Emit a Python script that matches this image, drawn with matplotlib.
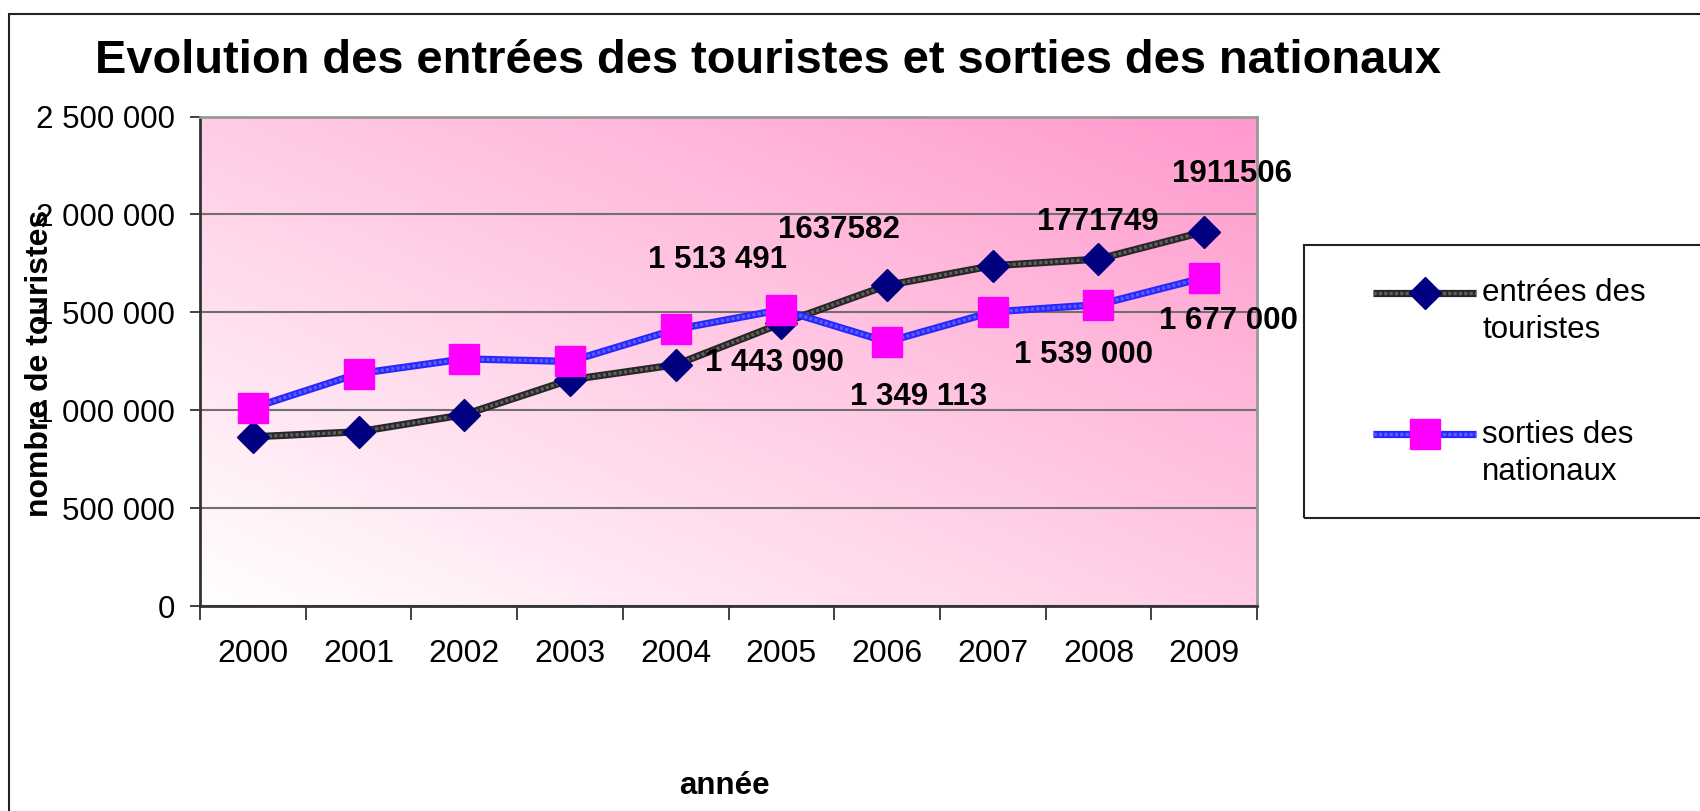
import matplotlib
matplotlib.use('Agg')
import matplotlib.pyplot as plt
from matplotlib.patches import Rectangle
from matplotlib.legend_handler import HandlerTuple
from matplotlib.ticker import FixedLocator, FuncFormatter
import numpy as np

plt.rcParams['font.family'] = ['Liberation Sans', 'DejaVu Sans']

years = ['2000', '2001', '2002', '2003', '2004', '2005', '2006', '2007', '2008', '2009']
entrees = [864000, 890000, 977000, 1155000, 1232000, 1443090, 1637582, 1738000, 1771749, 1911506]
sorties = [1012000, 1187000, 1262000, 1249000, 1413000, 1513491, 1349113, 1502000, 1539000, 1677000]

# data labels shown on the chart (index, text)
entrees_labels = [(5, '1 443 090'), (6, '1637582'), (8, '1771749'), (9, '1911506')]
sorties_labels = [(5, '1 513 491'), (6, '1 349 113'), (8, '1 539 000'), (9, '1 677 000')]

# label offsets in pixels, same order as above
entrees_offsets = [(-7, -40), (-48, 55), (-1, 37), (28, 58)]
sorties_offsets = [(-64, 50), (32, -55), (-15, -50), (24, -43)]


class TopTupleHandler(HandlerTuple):
    # put the legend sample next to the first line of a two-line label
    def __init__(self, shift, **kw):
        super().__init__(**kw)
        self.shift = shift

    def create_artists(self, *args, **kwargs):
        arts = super().create_artists(*args, **kwargs)
        for a in arts:
            a.set_ydata(np.asarray(a.get_ydata()) + self.shift)
        return arts


W, H = 1700, 811
fig = plt.figure(figsize=(17, 8.11), dpi=100)
ax = fig.add_axes([200 / W, 1 - 606 / H, 1057 / W, (606 - 116.5) / H])

# pink diagonal gradient background
n = 200
gx, gy = np.meshgrid(np.linspace(0, 1, n), np.linspace(1, 0, n))
t = ((gx + gy) / 2.0)[..., None]
white = np.array([1.0, 1.0, 1.0])
pink = np.array([1.0, 0.6, 0.8])
img = white * (1 - t) + pink * t
ax.imshow(img, extent=[0, 1, 0, 1], transform=ax.transAxes, aspect='auto', zorder=0)

x = np.arange(len(years))

l1a, = ax.plot(x, entrees, color='#262626', lw=5.2, solid_capstyle='butt', zorder=3)
l1b, = ax.plot(x, entrees, color='#5e5e5e', lw=2.4, ls=(0, (1, 0.6)), zorder=3)
m1, = ax.plot(x, entrees, ls='none', marker='D', ms=16, color='#000080', zorder=4)
l2a, = ax.plot(x, sorties, color='#2626ff', lw=5.2, solid_capstyle='butt', zorder=5)
l2b, = ax.plot(x, sorties, color='#5a5aff', lw=2.4, ls=(0, (1, 0.6)), zorder=5)
m2, = ax.plot(x, sorties, ls='none', marker='s', ms=21, color='#ff00ff', zorder=6)

for (i, txt), off in zip(entrees_labels, entrees_offsets):
    ax.annotate(txt, (x[i], entrees[i]), xytext=off, textcoords='offset pixels',
                ha='center', va='center', fontsize=22.5, fontweight='bold', zorder=7)
for (i, txt), off in zip(sorties_labels, sorties_offsets):
    ax.annotate(txt, (x[i], sorties[i]), xytext=off, textcoords='offset pixels',
                ha='center', va='center', fontsize=22.5, fontweight='bold', zorder=7)

ax.set_xlim(-0.5, len(years) - 0.5)
ax.set_ylim(0, 2500000)

ax.set_yticks(np.arange(0, 2500001, 500000))
ax.yaxis.set_major_formatter(FuncFormatter(lambda v, p: '{:,.0f}'.format(v).replace(',', ' ')))
ax.grid(axis='y', color='#707070', lw=1.5, zorder=1)

ax.set_xticks(x)
ax.set_xticklabels(years)
ax.xaxis.set_minor_locator(FixedLocator(np.arange(-0.5, len(years), 1.0)))
ax.tick_params(axis='x', which='major', length=0, pad=24, labelsize=23)
ax.tick_params(axis='x', which='minor', length=10, width=1.3, color='#333333')
ax.tick_params(axis='y', length=7, width=1.3, color='#333333', pad=11, labelsize=22.5)

for s in ['left', 'bottom']:
    ax.spines[s].set_color('#333333')
    ax.spines[s].set_linewidth(2)
for s in ['top', 'right']:
    ax.spines[s].set_color('#999999')
    ax.spines[s].set_linewidth(2)

fig.text(95 / W, 1 - 73 / H, 'Evolution des entrées des touristes et sorties des nationaux',
         fontsize=33.8, fontweight='bold', ha='left', va='baseline')
fig.text(40 / W, 1 - 363 / H, 'nombre de touristes', rotation=90, fontsize=23,
         fontweight='bold', ha='center', va='center')
fig.text(724 / W, 1 - 786 / H, 'année', fontsize=22.5, fontweight='bold', ha='center', va='center')

# outer chart border (only top/left visible in the crop)
fig.patches.append(Rectangle((9 / W, -0.1), 1.2, 1 - 14 / H + 0.1, transform=fig.transFigure,
                             fill=False, edgecolor='#222222', lw=1.5))
# legend frame
fig.patches.append(Rectangle((1304 / W, 1 - 518 / H), 0.5, (518 - 245) / H, transform=fig.transFigure,
                             fill=False, edgecolor='#222222', lw=1.5))

leg = fig.legend([(l1a, l1b, m1), (l2a, l2b, m2)],
                 ['entrées des\ntouristes', 'sorties des\nnationaux'],
                 handler_map={tuple: TopTupleHandler(shift=14, ndivide=1)},
                 loc='upper left', bbox_to_anchor=(1373 / W, 1 - 278 / H),
                 frameon=False, borderpad=0, borderaxespad=0, fontsize=22.5,
                 handlelength=3.3, handletextpad=0.2, labelspacing=2.4)
for txt in leg.get_texts():
    txt.set_linespacing(1.3)

fig.savefig('out.png', dpi=100)
